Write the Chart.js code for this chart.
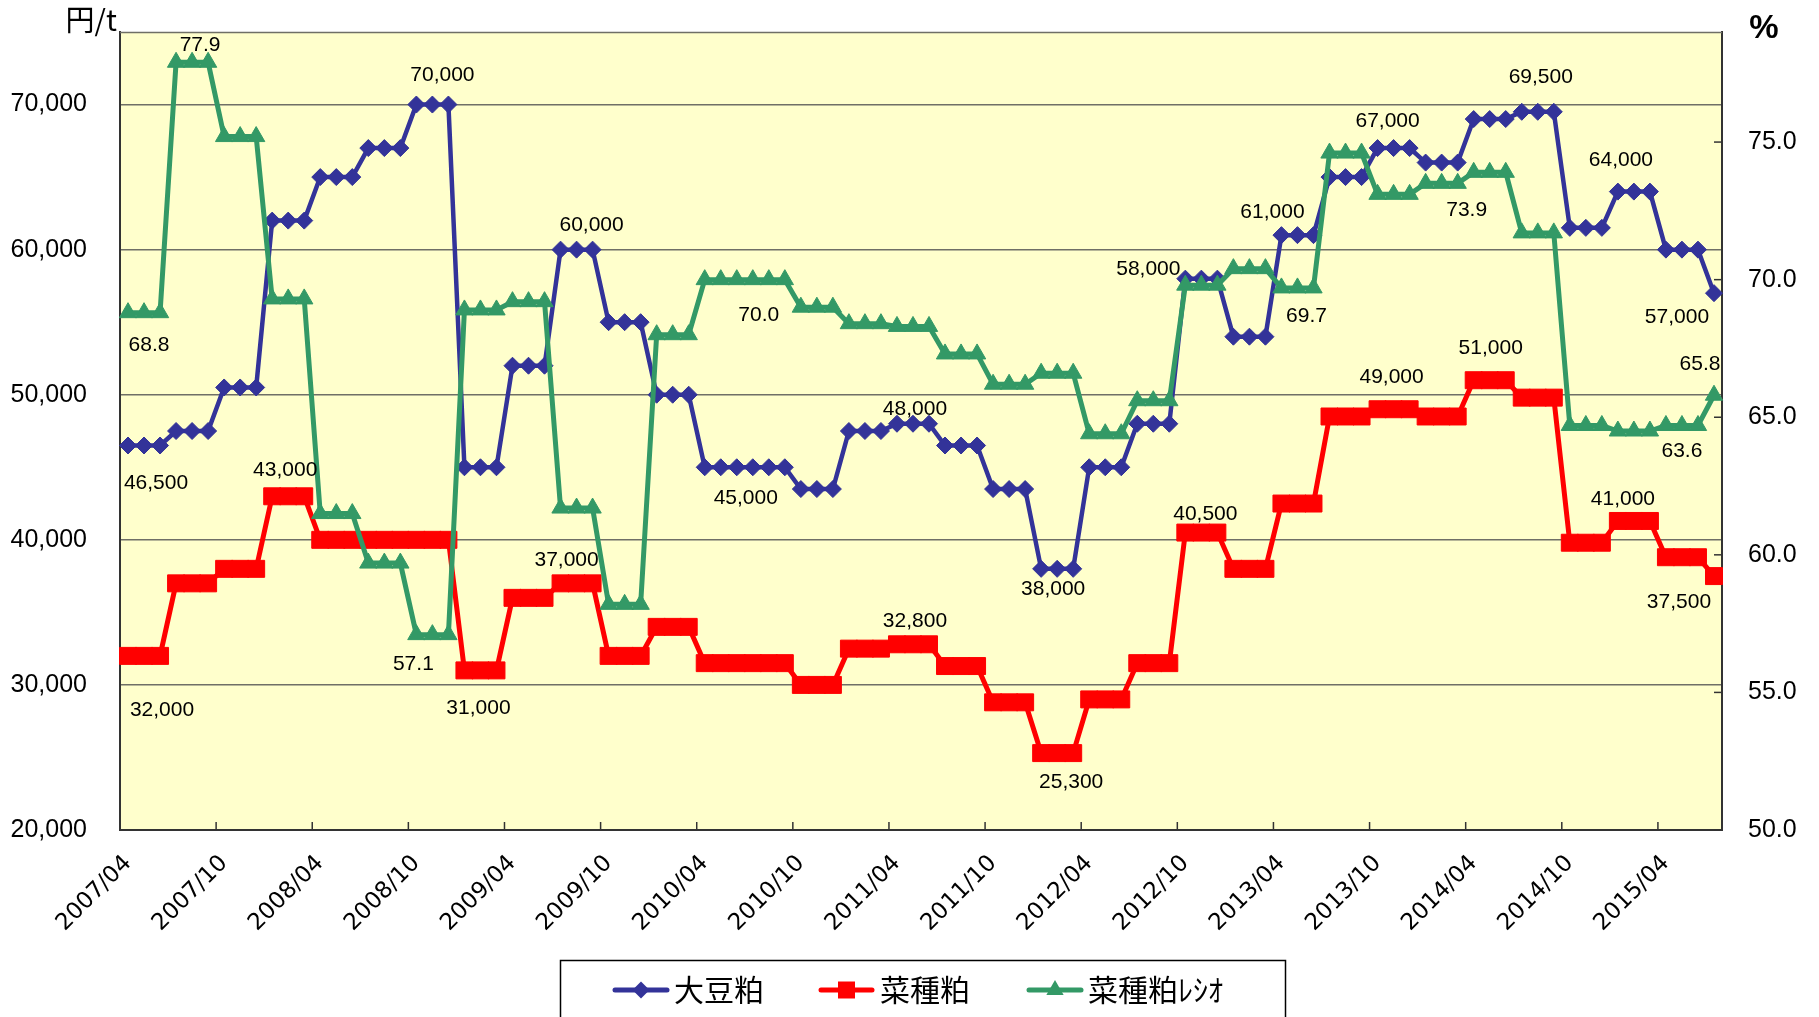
<!DOCTYPE html>
<html>
<head>
<meta charset="utf-8">
<script src="https://cdn.jsdelivr.net/npm/chart.js@4.4.1/dist/chart.umd.min.js"></script>
<style>
html,body{margin:0;padding:0;background:#ffffff;}
canvas{display:block;}
</style>
</head>
<body>
<canvas id="c" width="1819" height="1017"></canvas>
<script>
// ---------------- DATA ----------------
const months = [
 '2007/04','2007/05','2007/06','2007/07','2007/08','2007/09','2007/10','2007/11','2007/12',
 '2008/01','2008/02','2008/03','2008/04','2008/05','2008/06','2008/07','2008/08','2008/09','2008/10','2008/11','2008/12',
 '2009/01','2009/02','2009/03','2009/04','2009/05','2009/06','2009/07','2009/08','2009/09','2009/10','2009/11','2009/12',
 '2010/01','2010/02','2010/03','2010/04','2010/05','2010/06','2010/07','2010/08','2010/09','2010/10','2010/11','2010/12',
 '2011/01','2011/02','2011/03','2011/04','2011/05','2011/06','2011/07','2011/08','2011/09','2011/10','2011/11','2011/12',
 '2012/01','2012/02','2012/03','2012/04','2012/05','2012/06','2012/07','2012/08','2012/09','2012/10','2012/11','2012/12',
 '2013/01','2013/02','2013/03','2013/04','2013/05','2013/06','2013/07','2013/08','2013/09','2013/10','2013/11','2013/12',
 '2014/01','2014/02','2014/03','2014/04','2014/05','2014/06','2014/07','2014/08','2014/09','2014/10','2014/11','2014/12',
 '2015/01','2015/02','2015/03','2015/04','2015/05','2015/06','2015/07'
];

const seriesNames = ['大豆粕', '菜種粕', '菜種粕ﾚｼｵ'];

// 大豆粕 (円/t)
const soybeanMeal = [
 46500,46500,46500, 47500,47500,47500, 50500,50500,50500,
 62000,62000,62000, 65000,65000,65000, 67000,67000,67000, 70000,70000,70000,
 45000,45000,45000, 52000,52000,52000, 60000,60000,60000, 55000,55000,55000,
 50000,50000,50000, 45000,45000,45000, 45000,45000,45000, 43500,43500,43500,
 47500,47500,47500, 48000,48000,48000, 46500,46500,46500, 43500,43500,43500,
 38000,38000,38000, 45000,45000,45000, 48000,48000,48000, 58000,58000,58000,
 54000,54000,54000, 61000,61000,61000, 65000,65000,65000, 67000,67000,67000,
 66000,66000,66000, 69000,69000,69000, 69500,69500,69500, 61500,61500,61500,
 64000,64000,64000, 60000,60000,60000, 57000
];

// 菜種粕 (円/t)
const rapeseedMeal = [
 32000,32000,32000, 37000,37000,37000, 38000,38000,38000,
 43000,43000,43000, 40000,40000,40000, 40000,40000,40000, 40000,40000,40000,
 31000,31000,31000, 36000,36000,36000, 37000,37000,37000, 32000,32000,32000,
 34000,34000,34000, 31500,31500,31500, 31500,31500,31500, 30000,30000,30000,
 32500,32500,32500, 32800,32800,32800, 31300,31300,31300, 28800,28800,28800,
 25300,25300,25300, 29000,29000,29000, 31500,31500,31500, 40500,40500,40500,
 38000,38000,38000, 42500,42500,42500, 48500,48500,48500, 49000,49000,49000,
 48500,48500,48500, 51000,51000,51000, 49800,49800,49800, 39800,39800,39800,
 41300,41300,41300, 38800,38800,38800, 37500
];

// 菜種粕レシオ (%)
const rapeseedRatio = [
 68.8,68.8,68.8, 77.9,77.9,77.9, 75.2,75.2,75.2,
 69.3,69.3,69.3, 61.5,61.5,61.5, 59.7,59.7,59.7, 57.1,57.1,57.1,
 68.9,68.9,68.9, 69.2,69.2,69.2, 61.7,61.7,61.7, 58.2,58.2,58.2,
 68.0,68.0,68.0, 70.0,70.0,70.0, 70.0,70.0,70.0, 69.0,69.0,69.0,
 68.4,68.4,68.4, 68.3,68.3,68.3, 67.3,67.3,67.3, 66.2,66.2,66.2,
 66.6,66.6,66.6, 64.4,64.4,64.4, 65.6,65.6,65.6, 69.8,69.8,69.8,
 70.4,70.4,70.4, 69.7,69.7,69.7, 74.6,74.6,74.6, 73.1,73.1,73.1,
 73.5,73.5,73.5, 73.9,73.9,73.9, 71.7,71.7,71.7, 64.7,64.7,64.7,
 64.5,64.5,64.5, 64.7,64.7,64.7, 65.8
];

const leftTicks = [20000, 30000, 40000, 50000, 60000, 70000];
const rightTicks = [50, 55, 60, 65, 70, 75];
const leftUnit = '円/t';
const rightUnit = '%';

// data label texts: [series, point index, text]
const labelTexts = [
 [0, 1, '46,500'], [0, 19, '70,000'], [0, 28, '60,000'], [0, 38, '45,000'],
 [0, 49, '48,000'], [0, 58, '38,000'], [0, 66, '58,000'], [0, 72, '61,000'],
 [0, 79, '67,000'], [0, 88, '69,500'], [0, 94, '64,000'], [0, 99, '57,000'],
 [1, 1, '32,000'], [1, 10, '43,000'], [1, 22, '31,000'], [1, 28, '37,000'],
 [1, 49, '32,800'], [1, 58, '25,300'], [1, 67, '40,500'], [1, 79, '49,000'],
 [1, 85, '51,000'], [1, 94, '41,000'], [1, 99, '37,500'],
 [2, 4, '77.9'], [2, 1, '68.8'], [2, 18, '57.1'], [2, 39, '70.0'],
 [2, 74, '69.7'], [2, 84, '73.9'], [2, 99, '65.8'], [2, 97, '63.6']
];
// ---------------- END DATA ----------------

// label offsets (px) relative to the point, same order as labelTexts
const labelOffsets = [
 [12,38],[10,-29],[15,-24],[9,31],
 [2,-15],[-4,20],[-37,-9],[-9,-23],
 [-6,-27],[3,-35],[-13,-31],[-37,24],
 [18,54],[-3,-26],[-2,38],[-10,-23],
 [2,-23],[14,29],[4,-18],[-2,-32],
 [1,-32],[-11,-22],[-35,26],
 [8,-17],[5,33],[-3,30],[6,36],
 [-7,28],[-7,38],[-14,-31],[0,26]
];

const COLORS = ['#333399', '#FF0000', '#339966'];
const GRID = '#6f6f66';
const AXIS = '#333333';

function drawMarker(ctx, kind, x, y, color) {
  ctx.fillStyle = color;
  ctx.beginPath();
  if (kind === 0) {
    const r = 8.5;
    ctx.moveTo(x, y - r); ctx.lineTo(x + r, y); ctx.lineTo(x, y + r); ctx.lineTo(x - r, y);
  } else if (kind === 1) {
    ctx.rect(x - 8.5, y - 8.5, 17, 17);
  } else {
    const r = 10;
    ctx.moveTo(x, y - r);
    ctx.lineTo(x + r * Math.sin(2 * Math.PI / 3), y + r / 2);
    ctx.lineTo(x - r * Math.sin(2 * Math.PI / 3), y + r / 2);
  }
  ctx.closePath();
  ctx.fill();
}

const decorPlugin = {
  id: 'decor',
  beforeDraw(chart) {
    const { ctx, chartArea: a } = chart;
    ctx.save();
    ctx.fillStyle = '#FFFFCC';
    ctx.fillRect(a.left, a.top, a.right - a.left, a.bottom - a.top);
    ctx.restore();
  },
  beforeDatasetsDraw(chart) {
    const { ctx, chartArea: a, scales } = chart;
    ctx.save();
    ctx.strokeStyle = GRID;
    ctx.lineWidth = 1.5;
    ctx.beginPath(); ctx.moveTo(a.left, a.top + 0.5); ctx.lineTo(a.right, a.top + 0.5); ctx.stroke();
    ctx.strokeStyle = AXIS;
    ctx.lineWidth = 1.5;
    const n = months.length;
    const cw = (a.right - a.left) / n;
    for (let i = 6; i < n; i += 6) {
      const px = a.left + i * cw;
      ctx.beginPath(); ctx.moveTo(px, a.bottom); ctx.lineTo(px, a.bottom - 8); ctx.stroke();
    }
    rightTicks.forEach(v => {
      const py = scales.y1.getPixelForValue(v);
      ctx.beginPath(); ctx.moveTo(a.right, py); ctx.lineTo(a.right - 8, py); ctx.stroke();
    });
    ctx.restore();
  },
  afterDatasetsDraw(chart) {
    const { ctx } = chart;
    ctx.save();
    ctx.fillStyle = '#000';
    ctx.font = '21px "Liberation Sans", Arial, sans-serif';
    ctx.textAlign = 'center';
    ctx.textBaseline = 'middle';
    labelTexts.forEach((l, k) => {
      const pt = chart.getDatasetMeta(l[0]).data[l[1]];
      const off = labelOffsets[k];
      ctx.fillText(l[2], pt.x + off[0], pt.y + off[1]);
    });
    ctx.restore();
  },
  afterDraw(chart) {
    const { ctx, chartArea: a } = chart;
    ctx.save();
    ctx.fillStyle = '#000';
    ctx.font = '29px "Noto Sans CJK JP", sans-serif';
    ctx.textAlign = 'right';
    ctx.textBaseline = 'middle';
    ctx.fillText(leftUnit, a.left - 3, 20);
    ctx.font = 'bold 33px "Liberation Sans", Arial, sans-serif';
    ctx.textAlign = 'center';
    ctx.fillText(rightUnit, 1764, 29);

    ctx.strokeStyle = '#000';
    ctx.lineWidth = 1.5;
    ctx.strokeRect(560.5, 960.5, 725, 80);
    const items = [[615, 667, 674], [821, 872, 880], [1029, 1081, 1088]];
    const ly = 990;
    ctx.font = '30px "Noto Sans CJK JP", sans-serif';
    ctx.textAlign = 'left';
    ctx.textBaseline = 'middle';
    items.forEach((it, k) => {
      ctx.strokeStyle = COLORS[k];
      ctx.lineWidth = 5;
      ctx.lineCap = 'round';
      ctx.beginPath(); ctx.moveTo(it[0], ly); ctx.lineTo(it[1], ly); ctx.stroke();
      drawMarker(ctx, k, (it[0] + it[1]) / 2, ly, COLORS[k]);
      ctx.fillStyle = '#000';
      ctx.fillText(seriesNames[k], it[2], ly);
    });
    ctx.restore();
  }
};

const commonDs = {
  tension: 0,
  fill: false,
  pointBorderWidth: 1,
  pointHoverRadius: 0
};

function zeroPad(s) { s.paddingTop = 0; s.paddingBottom = 0; s.paddingLeft = 0; s.paddingRight = 0; }

new Chart(document.getElementById('c'), {
  type: 'line',
  data: {
    labels: months,
    datasets: [
      Object.assign({}, commonDs, {
        label: seriesNames[0], data: soybeanMeal, yAxisID: 'y',
        borderColor: COLORS[0], backgroundColor: COLORS[0],
        pointBackgroundColor: COLORS[0], pointBorderColor: COLORS[0],
        borderWidth: 4.5, pointStyle: 'rectRot', pointRadius: 8.5, order: 3
      }),
      Object.assign({}, commonDs, {
        label: seriesNames[1], data: rapeseedMeal, yAxisID: 'y',
        borderColor: COLORS[1], backgroundColor: COLORS[1],
        pointBackgroundColor: COLORS[1], pointBorderColor: COLORS[1],
        borderWidth: 5, pointStyle: 'rect', pointRadius: 12, order: 2
      }),
      Object.assign({}, commonDs, {
        label: seriesNames[2], data: rapeseedRatio, yAxisID: 'y1',
        borderColor: COLORS[2], backgroundColor: COLORS[2],
        pointBackgroundColor: COLORS[2], pointBorderColor: COLORS[2],
        borderWidth: 5, pointStyle: 'triangle', pointRadius: 10, order: 1
      })
    ]
  },
  options: {
    responsive: false,
    devicePixelRatio: 1,
    animation: false,
    events: [],
    layout: { padding: { top: 32, left: 0, right: 0, bottom: 0 } },
    plugins: {
      legend: { display: false },
      tooltip: { enabled: false },
      title: { display: false }
    },
    scales: {
      x: {
        type: 'category',
        offset: true,
        grid: { display: false, drawTicks: false, offset: true },
        border: { display: true, color: AXIS, width: 2 },
        ticks: {
          autoSkip: false,
          maxRotation: 45,
          minRotation: 45,
          padding: 20,
          color: '#000',
          font: { family: '"DejaVu Sans", sans-serif', size: 23 },
          callback: function (v, i) { return i % 6 === 0 ? months[i] : ''; }
        },
        afterFit: function (s) { s.height = 187; zeroPad(s); }
      },
      y: {
        position: 'left',
        min: 20000,
        max: 75000,
        afterBuildTicks: function (s) { s.ticks = leftTicks.map(v => ({ value: v })); },
        grid: { color: GRID, lineWidth: 1.5, drawTicks: false },
        border: { display: true, color: AXIS, width: 2 },
        ticks: {
          padding: 33,
          color: '#000',
          font: { family: '"Liberation Sans", Arial, sans-serif', size: 25 },
          callback: function (v) { return Number(v).toLocaleString('en-US'); }
        },
        afterFit: function (s) { s.width = 120; zeroPad(s); }
      },
      y1: {
        position: 'right',
        min: 50,
        max: 79,
        afterBuildTicks: function (s) { s.ticks = rightTicks.map(v => ({ value: v })); },
        grid: { drawOnChartArea: false, drawTicks: false },
        border: { display: true, color: AXIS, width: 2 },
        ticks: {
          padding: 26,
          color: '#000',
          font: { family: '"Liberation Sans", Arial, sans-serif', size: 25 },
          callback: function (v) { return Number(v).toFixed(1); }
        },
        afterFit: function (s) { s.width = 97; zeroPad(s); }
      }
    }
  },
  plugins: [decorPlugin]
});
</script>
</body>
</html>
